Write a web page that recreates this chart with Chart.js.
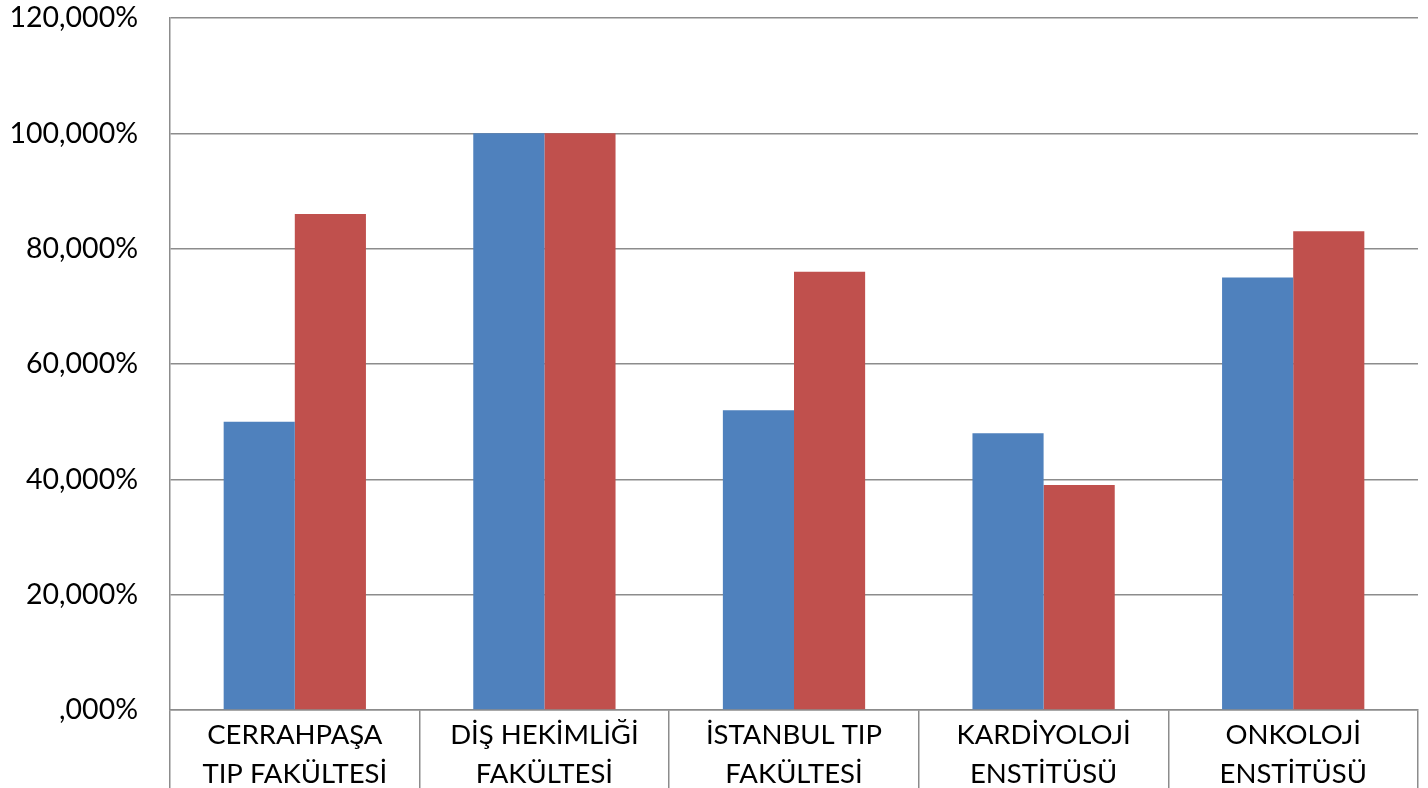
<!DOCTYPE html>
<html>
<head>
<meta charset="utf-8">
<script src="https://cdn.jsdelivr.net/npm/chart.js@4/dist/chart.umd.min.js"></script>
<style>
html,body{margin:0;padding:0;background:#fff;}
#wrap{width:1428px;height:788px;position:relative;}
</style>
</head>
<body>
<div id="wrap"><canvas id="c"></canvas></div>
<script>
const categories = [
  ["CERRAHPAŞA", "TIP FAKÜLTESİ"],
  ["DİŞ HEKİMLİĞİ", "FAKÜLTESİ"],
  ["İSTANBUL TIP", "FAKÜLTESİ"],
  ["KARDİYOLOJİ", "ENSTİTÜSÜ"],
  ["ONKOLOJİ", "ENSTİTÜSÜ"]
];
const seriesA = [50, 100, 52, 48, 75];
const seriesB = [86, 100, 76, 39, 83];
const yMin = 0, yMax = 120, yStep = 20;

function fmt(v){ return (v === 0 ? "" : String(v)) + ",000%"; }

new Chart(document.getElementById('c'), {
  type: 'bar',
  data: {
    labels: categories,
    datasets: [
      {label: 'A', data: seriesA, backgroundColor: '#4F81BD', categoryPercentage: 0.57, barPercentage: 1.0},
      {label: 'B', data: seriesB, backgroundColor: '#C0504D', categoryPercentage: 0.57, barPercentage: 1.0}
    ]
  },
  options: {
    responsive: true,
    maintainAspectRatio: false,
    animation: false,
    layout: {padding: {top: 18, right: 10, left: 0, bottom: 0}},
    plugins: {legend: {display: false}, tooltip: {enabled: false}},
    scales: {
      x: {
        grid: {display: true, offset: true, drawOnChartArea: false, drawTicks: true, tickLength: 78, color: '#8c8c8c', lineWidth: 1.5},
        border: {display: true, color: '#8c8c8c', width: 1.5},
        ticks: {color: '#000', font: {family: 'Lato', size: 27.5, lineHeight: 1.4}, padding: -72, maxRotation: 0, autoSkip: false},
        afterFit: (s) => { s.height = 78; s.paddingLeft = 0; s.paddingRight = 0; }
      },
      y: {
        min: yMin, max: yMax,
        grid: {color: '#8c8c8c', lineWidth: 1.5, drawTicks: false},
        border: {display: true, color: '#8c8c8c', width: 1.5},
        ticks: {stepSize: yStep, color: '#000', font: {family: 'Lato', size: 28.5}, padding: 32, callback: (v) => fmt(v)},
        afterFit: (s) => { s.width = 170; s.paddingTop = 0; s.paddingBottom = 0; }
      }
    }
  }
});
</script>
</body>
</html>
